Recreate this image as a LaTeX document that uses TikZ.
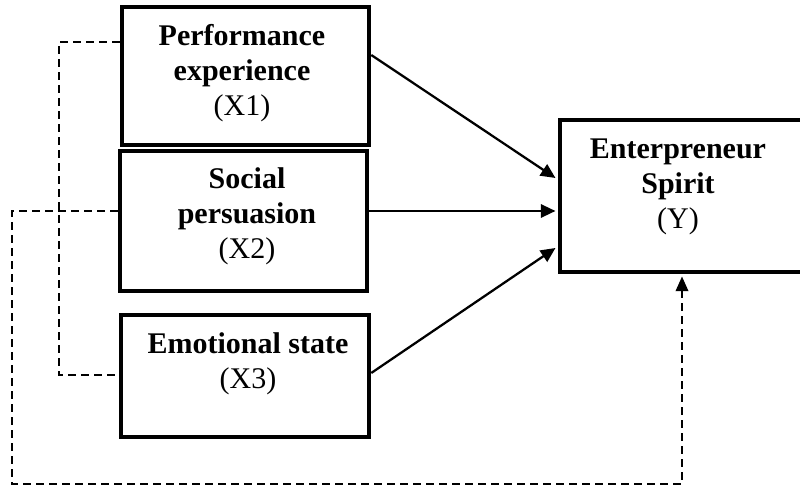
\documentclass[tikz,border=0pt]{standalone}
\usepackage{fontspec}
\setmainfont{Liberation Serif}
\usetikzlibrary{arrows.meta,calc}
\tikzset{
  boxst/.style={draw,line width=3.4pt,inner sep=0pt},
  lbl/.style={align=center,font=\fontsize{22.5}{26.25}\selectfont,inner sep=0pt},
  conn/.style={line width=1.7pt,-{Triangle[length=11pt,width=10pt]}},
  dsh/.style={line width=1.25pt,dash pattern=on 6pt off 3.75pt},
  dsharr/.style={dsh,-{Triangle[length=11pt,width=9.5pt]}}
}
\begin{document}
\begin{tikzpicture}[x=0.75pt,y=-0.75pt]
\useasboundingbox (0,0) rectangle (800,488);
% boxes (coordinates of border centre lines)
\node[boxst,minimum width=247*0.75pt,minimum height=138*0.75pt] (x1) at (245.5,76) {};
\node[boxst,minimum width=247*0.75pt,minimum height=140*0.75pt] (x2) at (243.5,221) {};
\node[boxst,minimum width=248*0.75pt,minimum height=122*0.75pt] (x3) at (245,376) {};
\node[boxst,minimum width=243*0.75pt,minimum height=152*0.75pt] (y) at (681.5,196) {};
% labels
\node[lbl] (x1t) at (242,73) {\textbf{Performance}\\\textbf{experience}\\(X1)};
\node[lbl] (x2t) at (247,216) {\textbf{Social}\\\textbf{persuasion}\\(X2)};
\node[lbl] (x3t) at (248,364) {\textbf{Emotional state}\\(X3)};
\node[lbl] (yt) at (678,187) {\textbf{Enterpreneur}\\\textbf{Spirit}\\(Y)};
% solid arrows
\draw[conn] ([yshift=21*0.75pt]x1.east) -- ([yshift=18*0.75pt,xshift=-1.7pt]y.west);
\draw[conn] ([yshift=10*0.75pt]x2.east) -- ([yshift=-15*0.75pt,xshift=-1.7pt]y.west);
\draw[conn] ([yshift=3*0.75pt]x3.east) -- ([yshift=-52*0.75pt,xshift=-1.7pt]y.west);
% dashed connectors
\coordinate (a1) at (59,42);
\coordinate (a2) at (59,375);
\draw[dsh] (a1 -| x1.west) -- (a1) -- (a2) -- (a2 -| x3.west);
\coordinate (b1) at (12,211);
\coordinate (b2) at (12,484);
\coordinate (b3) at (682,484);
\draw[dsharr] (b1 -| x2.west) -- (b1) -- (b2) -- (b3) -- ([yshift=-1.7pt]b3 |- y.south);
\end{tikzpicture}
\end{document}
